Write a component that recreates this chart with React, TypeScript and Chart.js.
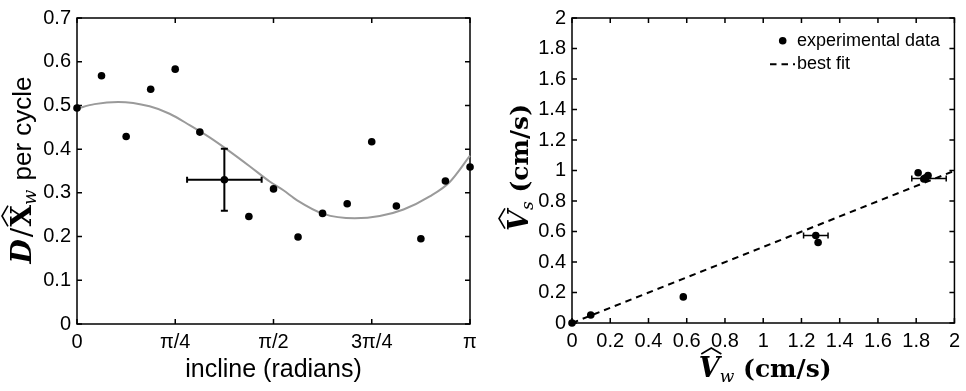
import React, { useEffect, useRef } from 'react';
import { Chart, registerables } from 'chart.js';

Chart.register(...registerables);
Chart.defaults.color = '#000';

// ---------- left chart data ----------
const inclineX = [0, 0.196, 0.393, 0.589, 0.785, 0.982, 1.178, 1.374, 1.571, 1.767, 1.963, 2.16, 2.356, 2.553, 2.749, 2.945, 3.142];
const ratioY = [0.494, 0.568, 0.429, 0.537, 0.583, 0.439, 0.33, 0.246, 0.309, 0.199, 0.253, 0.275, 0.417, 0.27, 0.195, 0.327, 0.359];
const fitCurveX = [0, 0.14, 0.33, 0.58, 0.74, 0.9, 1.06, 1.22, 1.38, 1.54, 1.65, 1.76, 1.97, 2.22, 2.42, 2.61, 2.82, 2.98, 3.1416];
const fitCurveY = [0.493, 0.503, 0.508, 0.498, 0.481, 0.455, 0.427, 0.395, 0.361, 0.326, 0.306, 0.283, 0.252, 0.242, 0.247, 0.262, 0.292, 0.325, 0.385];
const inclineErrIndex = [6];
const inclineErrX = [0.298];
const inclineErrY = [0.071];
const inclineTickValues = [0, 0.785398, 1.570796, 2.356194, 3.141593];
const inclineTickLabels = ['0', 'π/4', 'π/2', '3π/4', 'π'];
const ratioTickValues = [0, 0.1, 0.2, 0.3, 0.4, 0.5, 0.6, 0.7];
const ratioTickLabels = ['0', '0.1', '0.2', '0.3', '0.4', '0.5', '0.6', '0.7'];

// ---------- right chart data ----------
const vwData = [0, 0.098, 0.582, 1.275, 1.287, 1.81, 1.84, 1.862, 1.85];
const vsData = [0, 0.052, 0.171, 0.574, 0.528, 0.985, 0.945, 0.967, 0.952];
const speedErrX = [1.275, 1.867];
const speedErrY = [0.574, 0.948];
const speedErrW = [0.064, 0.09];
const fitLineX = [0, 2];
const fitLineY = [0, 0.998];
const speedTickValues = [0, 0.2, 0.4, 0.6, 0.8, 1, 1.2, 1.4, 1.6, 1.8, 2];
const speedTickLabels = ['0', '0.2', '0.4', '0.6', '0.8', '1', '1.2', '1.4', '1.6', '1.8', '2'];

const SANS = '"Liberation Sans", Arial, sans-serif';
const SERIF = '"DejaVu Serif", serif';

type Seg = { t: string; f: string; dy?: number; dx?: number; hat?: boolean; hatShift?: number };

function drawMath(ctx: CanvasRenderingContext2D, segs: Seg[], x: number, y: number, rotate: boolean) {
  ctx.save();
  ctx.translate(x, y);
  if (rotate) ctx.rotate(-Math.PI / 2);
  ctx.textAlign = 'left';
  ctx.textBaseline = 'alphabetic';
  ctx.fillStyle = '#000';
  ctx.strokeStyle = '#000';
  const widths = segs.map((s) => {
    ctx.font = s.f;
    return ctx.measureText(s.t).width + (s.dx || 0);
  });
  const total = widths.reduce((a, b) => a + b, 0);
  let cx = -total / 2;
  segs.forEach((s, i) => {
    ctx.font = s.f;
    const px = cx + (s.dx || 0);
    ctx.fillText(s.t, px, s.dy || 0);
    if (s.hat) {
      const m = ctx.measureText(s.t);
      const w = m.width;
      const top = -m.actualBoundingBoxAscent + (s.dy || 0) - 2;
      const sh = s.hatShift || 0;
      ctx.lineWidth = 1.6;
      ctx.beginPath();
      ctx.moveTo(px + sh + w * 0.02, top);
      ctx.lineTo(px + sh + w * 0.5, top - 6);
      ctx.lineTo(px + sh + w * 0.98, top);
      ctx.stroke();
    }
    cx += widths[i];
  });
  ctx.restore();
}

const boxPlugin = {
  id: 'boxTicks',
  beforeDatasetsDraw(chart: any) {
    const { ctx, chartArea: a, scales } = chart;
    ctx.save();
    ctx.strokeStyle = '#000';
    ctx.lineWidth = 1.5;
    ctx.beginPath();
    scales.x.ticks.forEach((t: any) => {
      const px = scales.x.getPixelForValue(t.value);
      ctx.moveTo(px, a.bottom);
      ctx.lineTo(px, a.bottom - 5);
      ctx.moveTo(px, a.top);
      ctx.lineTo(px, a.top + 5);
    });
    scales.y.ticks.forEach((t: any) => {
      const py = scales.y.getPixelForValue(t.value);
      ctx.moveTo(a.left, py);
      ctx.lineTo(a.left + 5, py);
      ctx.moveTo(a.right, py);
      ctx.lineTo(a.right - 5, py);
    });
    ctx.stroke();
    ctx.strokeRect(a.left, a.top, a.right - a.left, a.bottom - a.top);
    ctx.restore();
  },
};

function axisOpts(min: number, max: number, values: number[], labels: string[], isX: boolean, size: number) {
  return {
    type: 'linear',
    min,
    max,
    grid: { display: false, drawTicks: false },
    border: { display: false },
    afterBuildTicks: (scale: any) => {
      scale.ticks = values.map((v) => ({ value: v }));
    },
    afterFit: (scale: any) => {
      if (isX) scale.height = size;
      else scale.width = size;
    },
    ticks: {
      font: { family: SANS, size: 20 },
      color: '#000',
      padding: 6,
      maxRotation: 0,
      autoSkip: false,
      callback: (_v: any, i: number) => labels[i],
    },
  };
}

function leftConfig(): any {
  const errPlugin = {
    id: 'leftErr',
    afterDatasetsDraw(chart: any) {
      const { ctx, scales } = chart;
      ctx.save();
      ctx.strokeStyle = '#000';
      ctx.lineWidth = 2;
      inclineErrIndex.forEach((idx, k) => {
        const x = inclineX[idx];
        const y = ratioY[idx];
        const x0 = scales.x.getPixelForValue(x - inclineErrX[k]);
        const x1 = scales.x.getPixelForValue(x + inclineErrX[k]);
        const y0 = scales.y.getPixelForValue(y - inclineErrY[k]);
        const y1 = scales.y.getPixelForValue(y + inclineErrY[k]);
        const px = scales.x.getPixelForValue(x);
        const py = scales.y.getPixelForValue(y);
        ctx.beginPath();
        ctx.moveTo(x0, py); ctx.lineTo(x1, py);
        ctx.moveTo(x0, py - 3); ctx.lineTo(x0, py + 3);
        ctx.moveTo(x1, py - 3); ctx.lineTo(x1, py + 3);
        ctx.moveTo(px, y0); ctx.lineTo(px, y1);
        ctx.moveTo(px - 3.5, y0); ctx.lineTo(px + 3.5, y0);
        ctx.moveTo(px - 3.5, y1); ctx.lineTo(px + 3.5, y1);
        ctx.stroke();
      });
      ctx.restore();
    },
  };
  const titlePlugin = {
    id: 'leftTitles',
    afterDraw(chart: any) {
      const { ctx, chartArea: a } = chart;
      ctx.save();
      ctx.font = `25px ${SANS}`;
      ctx.fillStyle = '#000';
      ctx.textAlign = 'center';
      ctx.textBaseline = 'alphabetic';
      ctx.fillText('incline (radians)', (a.left + a.right) / 2, 377);
      ctx.restore();
      drawMath(
        ctx,
        [
          { t: 'D', f: `italic bold 28px ${SERIF}` },
          { t: '/', f: `28px ${SERIF}`, dx: 2 },
          { t: 'X', f: `bold 28px ${SERIF}`, hat: true, dx: 1 },
          { t: 'w', f: `italic 18px ${SERIF}`, dy: 5 },
          { t: ' per cycle', f: `26px ${SANS}`, dx: 2 },
        ],
        31,
        (a.top + a.bottom) / 2 - 1,
        true
      );
    },
  };
  return {
    type: 'scatter',
    data: {
      datasets: [
        {
          label: 'data',
          data: inclineX.map((x, i) => ({ x, y: ratioY[i] })),
          pointRadius: 3.8,
          pointBackgroundColor: '#000',
          pointBorderWidth: 0,
          clip: false,
        },
        {
          label: 'fit',
          data: fitCurveX.map((x, i) => ({ x, y: fitCurveY[i] })),
          showLine: true,
          borderColor: '#9a9a9a',
          borderWidth: 2,
          pointRadius: 0,
          cubicInterpolationMode: 'monotone',
          clip: false,
        },
      ],
    },
    options: {
      animation: false,
      responsive: false,
      events: [],
      layout: { padding: { left: 0, top: 15, right: 13, bottom: 0 } },
      plugins: { legend: { display: false }, tooltip: { enabled: false } },
      scales: {
        x: axisOpts(0, 3.141593, inclineTickValues, inclineTickLabels, true, 67),
        y: axisOpts(0, 0.7, ratioTickValues, ratioTickLabels, false, 77),
      },
    },
    plugins: [boxPlugin, errPlugin, titlePlugin],
  };
}

function rightConfig(): any {
  const errPlugin = {
    id: 'rightErr',
    afterDatasetsDraw(chart: any) {
      const { ctx, scales } = chart;
      ctx.save();
      ctx.strokeStyle = '#000';
      ctx.lineWidth = 1.5;
      speedErrX.forEach((x, k) => {
        const x0 = scales.x.getPixelForValue(x - speedErrW[k]);
        const x1 = scales.x.getPixelForValue(x + speedErrW[k]);
        const py = scales.y.getPixelForValue(speedErrY[k]);
        ctx.beginPath();
        ctx.moveTo(x0, py); ctx.lineTo(x1, py);
        ctx.moveTo(x0, py - 3); ctx.lineTo(x0, py + 3);
        ctx.moveTo(x1, py - 3); ctx.lineTo(x1, py + 3);
        ctx.stroke();
      });
      ctx.restore();
    },
  };
  const titlePlugin = {
    id: 'rightTitles',
    afterDraw(chart: any) {
      const { ctx, chartArea: a } = chart;
      drawMath(
        ctx,
        [
          { t: 'V', f: `italic bold 27px ${SERIF}`, hat: true, hatShift: 2 },
          { t: 'w', f: `italic 17px ${SERIF}`, dy: 5 },
          { t: ' (cm/s)', f: `bold 25px ${SERIF}` },
        ],
        (a.left + a.right) / 2 + 2,
        377,
        false
      );
      drawMath(
        ctx,
        [
          { t: 'V', f: `italic bold 27px ${SERIF}`, hat: true, hatShift: 2 },
          { t: 's', f: `italic 17px ${SERIF}`, dy: 5 },
          { t: ' (cm/s)', f: `bold 25px ${SERIF}` },
        ],
        45,
        (a.top + a.bottom) / 2 - 3,
        true
      );
      // legend
      const ds = chart.data.datasets;
      ctx.save();
      ctx.font = `18px ${SANS}`;
      ctx.fillStyle = '#000';
      ctx.textAlign = 'left';
      ctx.textBaseline = 'alphabetic';
      ctx.beginPath();
      ctx.arc(299.7, 40.7, 3.8, 0, Math.PI * 2);
      ctx.fill();
      ctx.fillText(ds[0].label, 314, 46);
      ctx.strokeStyle = '#000';
      ctx.lineWidth = 2;
      ctx.setLineDash([6.5, 5]);
      ctx.beginPath();
      ctx.moveTo(287, 64.3);
      ctx.lineTo(312, 64.3);
      ctx.stroke();
      ctx.setLineDash([]);
      ctx.fillText(ds[1].label, 314, 69);
      ctx.restore();
    },
  };
  return {
    type: 'scatter',
    data: {
      datasets: [
        {
          label: 'experimental data',
          data: vwData.map((x, i) => ({ x, y: vsData[i] })),
          pointRadius: 3.8,
          pointBackgroundColor: '#000',
          pointBorderWidth: 0,
          clip: false,
        },
        {
          label: 'best fit',
          data: fitLineX.map((x, i) => ({ x, y: fitLineY[i] })),
          showLine: true,
          borderColor: '#000',
          borderWidth: 2,
          borderDash: [6.5, 5],
          pointRadius: 0,
          clip: false,
        },
      ],
    },
    options: {
      animation: false,
      responsive: false,
      events: [],
      layout: { padding: { left: 0, top: 15, right: 6, bottom: 0 } },
      plugins: { legend: { display: false }, tooltip: { enabled: false } },
      scales: {
        x: axisOpts(0, 2, speedTickValues, speedTickLabels, true, 68),
        y: axisOpts(0, 2, speedTickValues, speedTickLabels, false, 89),
      },
    },
    plugins: [boxPlugin, errPlugin, titlePlugin],
  };
}

function ChartCanvas({ make }: { make: () => any }) {
  const ref = useRef<HTMLCanvasElement | null>(null);
  useEffect(() => {
    if (!ref.current) return;
    const c = new Chart(ref.current, make());
    return () => c.destroy();
  }, [make]);
  return <canvas ref={ref} width={483} height={391} style={{ display: 'block', width: 483, height: 391 }} />;
}

export default function App() {
  useEffect(() => {
    document.body.style.margin = '0';
    document.body.style.background = '#fff';
  }, []);
  return (
    <div style={{ position: 'absolute', left: 0, top: 0, width: 966, height: 391, background: '#fff' }}>
      <div style={{ position: 'absolute', left: 0, top: 0, width: 483, height: 391 }}>
        <ChartCanvas make={leftConfig} />
      </div>
      <div style={{ position: 'absolute', left: 483, top: 0, width: 483, height: 391 }}>
        <ChartCanvas make={rightConfig} />
      </div>
    </div>
  );
}
